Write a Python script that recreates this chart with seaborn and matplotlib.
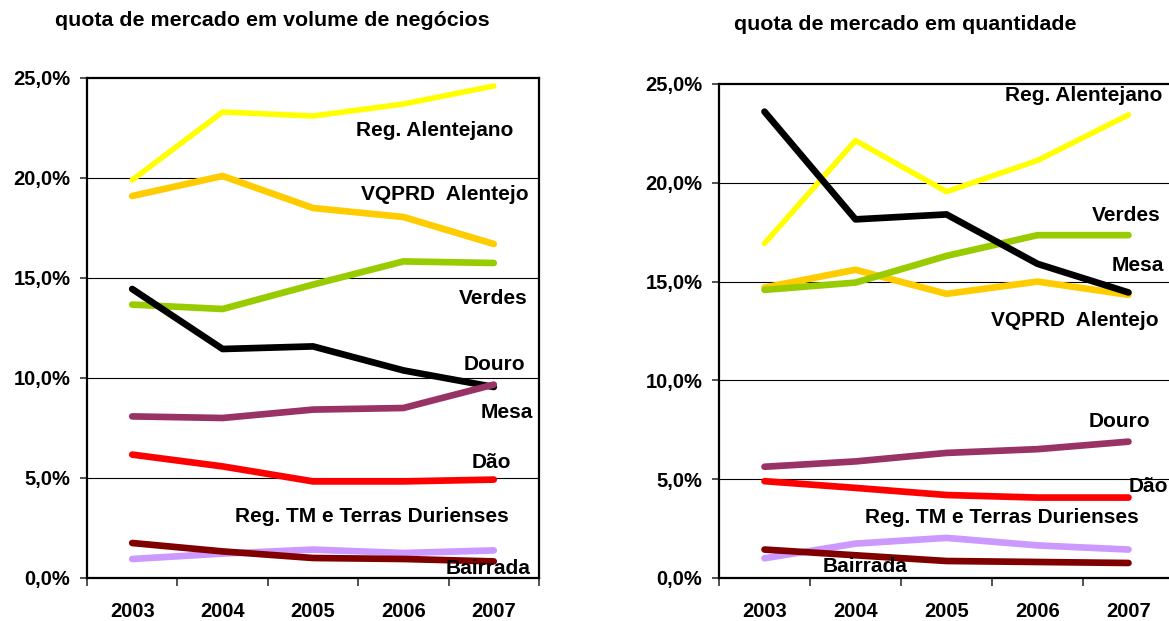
import pandas as pd
import matplotlib
matplotlib.use("Agg")
import matplotlib.pyplot as plt
import seaborn as sns
from matplotlib.ticker import FixedLocator, FuncFormatter

years = ["2003", "2004", "2005", "2006", "2007"]
series = ["Reg. Alentejano", "VQPRD  Alentejo", "Verdes", "Douro", "Mesa",
          "Dão", "Reg. TM e Terras Durienses", "Bairrada"]

# quota de mercado em volume de negocios (%)
vol_reg_alentejano = [19.9, 23.3, 23.1, 23.7, 24.6]
vol_vqprd_alentejo = [19.1, 20.1, 18.5, 18.05, 16.7]
vol_verdes = [13.67, 13.45, 14.67, 15.83, 15.75]
vol_douro = [14.45, 11.45, 11.58, 10.38, 9.55]
vol_mesa = [8.08, 8.0, 8.42, 8.5, 9.67]
vol_dao = [6.17, 5.58, 4.83, 4.83, 4.92]
vol_reg_tm = [0.95, 1.22, 1.42, 1.25, 1.38]
vol_bairrada = [1.75, 1.33, 1.0, 0.95, 0.83]

# quota de mercado em quantidade (%)
qty_reg_alentejano = [16.93, 22.14, 19.55, 21.13, 23.44]
qty_vqprd_alentejo = [14.7, 15.6, 14.38, 15.0, 14.33]
qty_verdes = [14.58, 14.95, 16.3, 17.35, 17.35]
qty_douro = [23.6, 18.15, 18.4, 15.9, 14.45]
qty_mesa = [5.63, 5.9, 6.33, 6.52, 6.9]
qty_dao = [4.9, 4.56, 4.2, 4.07, 4.07]
qty_reg_tm = [1.0, 1.74, 2.03, 1.65, 1.44]
qty_bairrada = [1.44, 1.15, 0.86, 0.81, 0.76]

colors = {
    "Reg. Alentejano": "#FFFF00",
    "VQPRD  Alentejo": "#FFCC00",
    "Verdes": "#99CC00",
    "Douro": "#000000",
    "Mesa": "#993366",
    "Dão": "#FF0000",
    "Reg. TM e Terras Durienses": "#CC99FF",
    "Bairrada": "#800000",
}
widths = {s: 4.8 for s in series}
widths["Reg. Alentejano"] = 4.0

# label positions (x in category units, y in %)
vol_label_pos = {
    "Reg. Alentejano": (2.48, 22.37),
    "VQPRD  Alentejo": (2.53, 19.15),
    "Verdes": (3.61, 14.0),
    "Douro": (3.67, 10.65),
    "Mesa": (3.85, 8.25),
    "Dão": (3.75, 5.77),
    "Reg. TM e Terras Durienses": (1.14, 3.07),
    "Bairrada": (3.47, 0.5),
}
qty_label_pos = {
    "Reg. Alentejano": (2.64, 24.44),
    "Verdes": (3.60, 18.37),
    "Mesa": (3.81, 15.84),
    "VQPRD  Alentejo": (2.49, 13.02),
    "Douro": (3.56, 7.91),
    "Dão": (4.0, 4.62),
    "Reg. TM e Terras Durienses": (1.10, 3.05),
    "Bairrada": (0.64, 0.57),
}


def to_long(values):
    rows = []
    for name, vals in zip(series, values):
        for i, v in enumerate(vals):
            rows.append({"ano": i, "serie": name, "quota": v})
    return pd.DataFrame(rows)


vol_df = to_long([vol_reg_alentejano, vol_vqprd_alentejo, vol_verdes, vol_douro,
                  vol_mesa, vol_dao, vol_reg_tm, vol_bairrada])
qty_df = to_long([qty_reg_alentejano, qty_vqprd_alentejo, qty_verdes, qty_douro,
                  qty_mesa, qty_dao, qty_reg_tm, qty_bairrada])

sns.set_style("white")
plt.rcParams["font.family"] = ["Liberation Sans", "DejaVu Sans"]
plt.rcParams["font.weight"] = "bold"
plt.rcParams["text.color"] = "black"
plt.rcParams["xtick.color"] = "black"
plt.rcParams["ytick.color"] = "black"
plt.rcParams["xtick.labelcolor"] = "black"
plt.rcParams["ytick.labelcolor"] = "black"

fig = plt.figure(figsize=(11.69, 6.21), dpi=100)
ax1 = fig.add_axes([87 / 1169, 43 / 621, 452 / 1169, 500 / 621])
ax2 = fig.add_axes([719 / 1169, 43 / 621, 455 / 1169, 494 / 621])


def draw(ax, df, label_pos):
    for name in series:
        sub = df[df["serie"] == name]
        sns.lineplot(data=sub, x="ano", y="quota", color=colors[name],
                     linewidth=widths[name], ax=ax, legend=False, zorder=3,
                     solid_capstyle="round", solid_joinstyle="round")
    ax.set_xlim(-0.5, 4.5)
    ax.set_ylim(0, 25)
    ax.set_xlabel("")
    ax.set_ylabel("")
    ax.yaxis.set_major_locator(FixedLocator([0, 5, 10, 15, 20, 25]))
    ax.yaxis.set_major_formatter(FuncFormatter(lambda v, p: f"{v:.1f}%".replace(".", ",")))
    ax.xaxis.set_major_locator(FixedLocator(range(len(years))))
    ax.set_xticklabels(years)
    ax.xaxis.set_minor_locator(FixedLocator([i - 0.5 for i in range(len(years) + 1)]))
    ax.tick_params(axis="x", which="major", length=0, pad=17, labelsize=14.5,
                   labelcolor="black")
    ax.tick_params(axis="x", which="minor", length=6, width=1.2, direction="out",
                   color="#333333", bottom=True)
    ax.tick_params(axis="y", length=5, width=1.2, direction="out", pad=7,
                   labelsize=14.5, color="#333333", left=True, labelcolor="black")
    for lab in ax.get_xticklabels() + ax.get_yticklabels():
        lab.set_fontweight("bold")
    for y in [5, 10, 15, 20]:
        ax.axhline(y, color="black", linewidth=0.8, zorder=1)
    for side in ["left", "bottom", "top", "right"]:
        ax.spines[side].set_color("black")
        ax.spines[side].set_linewidth(1.6)
        ax.spines[side].set_visible(True)
    for name, (x, y) in label_pos.items():
        ax.text(x, y, name, ha="left", va="center", fontsize=15,
                fontweight="bold", color="black", zorder=5, clip_on=False)


draw(ax1, vol_df, vol_label_pos)
draw(ax2, qty_df, qty_label_pos)

fig.text(272 / 1169, 1 - 20 / 621, "quota de mercado em volume de negócios",
         ha="center", va="center", fontsize=15.4, fontweight="bold", color="black")
fig.text(905 / 1169, 1 - 25 / 621, "quota de mercado em quantidade",
         ha="center", va="center", fontsize=15.4, fontweight="bold", color="black")

fig.savefig("out.png", dpi=100)
